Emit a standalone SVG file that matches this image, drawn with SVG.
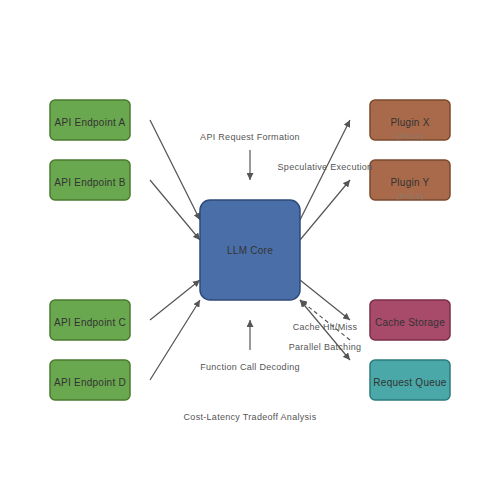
<svg xmlns="http://www.w3.org/2000/svg" width="500" height="500" viewBox="0 0 500 500">
<defs>
<marker id="ah" viewBox="0 0 10 10" refX="10" refY="5" markerWidth="7" markerHeight="7" markerUnits="userSpaceOnUse" orient="auto-start-reverse">
<path d="M0,0 L10,5 L0,10 z" fill="#555"/>
</marker>
<style>
.node{stroke-width:1.5}
.lbl{font-family:"Liberation Sans",Arial,sans-serif;font-size:10px;fill:#333;text-anchor:middle;dominant-baseline:central;letter-spacing:0.25px}
.ann{font-family:"Liberation Sans",Arial,sans-serif;font-size:9px;fill:#555;text-anchor:middle;dominant-baseline:central;letter-spacing:0.3px}
.prob{font-family:"Liberation Sans",Arial,sans-serif;font-size:8px;fill:#8a7a70;text-anchor:middle;dominant-baseline:central}
.c{stroke:#555;stroke-width:1.2;fill:none;marker-end:url(#ah)}
.green{fill:#6aa84f;stroke:#4a7a2f}
.blue{fill:#4a6fa8;stroke:#2e4a7a}
.brown{fill:#a86a4a;stroke:#7a4a2e}
.rose{fill:#a84a6a;stroke:#7a2e4a}
.teal{fill:#4aa8a8;stroke:#2e7a7a}
</style>
</defs>
<rect width="500" height="500" fill="#fff"/>
<g id="connectors">
<line class="c" x1="150" y1="120" x2="200" y2="220"/>
<line class="c" x1="150" y1="180" x2="200" y2="240"/>
<line class="c" x1="150" y1="320" x2="200" y2="280"/>
<line class="c" x1="150" y1="380" x2="200" y2="300"/>
<line class="c" x1="300" y1="220" x2="350" y2="120"/>
<line class="c" x1="300" y1="240" x2="350" y2="180"/>
<line class="c" x1="300" y1="280" x2="350" y2="320"/>
<line class="c" x1="300" y1="300" x2="350" y2="360" style="marker-start:url(#ah)"/>
<line class="c" x1="350" y1="340" x2="300" y2="300" stroke-dasharray="4,3"/>
<line class="c" x1="250" y1="150" x2="250" y2="180"/>
<line class="c" x1="250" y1="350" x2="250" y2="320"/>
</g>
<g id="endpointA"><rect class="node green" x="50" y="100" width="80" height="40" rx="5"/><text class="lbl" x="90" y="122">API Endpoint A</text></g>
<g id="endpointB"><rect class="node green" x="50" y="160" width="80" height="40" rx="5"/><text class="lbl" x="90" y="182">API Endpoint B</text></g>
<g id="endpointC"><rect class="node green" x="50" y="300" width="80" height="40" rx="5"/><text class="lbl" x="90" y="322">API Endpoint C</text></g>
<g id="endpointD"><rect class="node green" x="50" y="360" width="80" height="40" rx="5"/><text class="lbl" x="90" y="382">API Endpoint D</text></g>
<g id="llmCore"><rect class="node blue" x="200" y="200" width="100" height="100" rx="10"/><text class="lbl" x="250" y="250">LLM Core</text></g>
<g id="pluginX"><rect class="node brown" x="370" y="100" width="80" height="40" rx="5"/><text class="lbl" x="410" y="122">Plugin X</text><text class="prob" x="410" y="136">(P=0.7)</text></g>
<g id="pluginY"><rect class="node brown" x="370" y="160" width="80" height="40" rx="5"/><text class="lbl" x="410" y="182">Plugin Y</text><text class="prob" x="410" y="196">(P=0.3)</text></g>
<g id="cacheStorage"><rect class="node rose" x="370" y="300" width="80" height="40" rx="5"/><text class="lbl" x="410" y="322">Cache Storage</text></g>
<g id="requestQueue"><rect class="node teal" x="370" y="360" width="80" height="40" rx="5"/><text class="lbl" x="410" y="382">Request Queue</text></g>
<g id="labels">
<text class="ann" x="250" y="137">API Request Formation</text>
<text class="ann" x="325" y="167">Speculative Execution</text>
<text class="ann" x="325" y="327">Cache Hit/Miss</text>
<text class="ann" x="325" y="347">Parallel Batching</text>
<text class="ann" x="250" y="367">Function Call Decoding</text>
<text class="ann" x="250" y="417">Cost-Latency Tradeoff Analysis</text>
</g>
</svg>
